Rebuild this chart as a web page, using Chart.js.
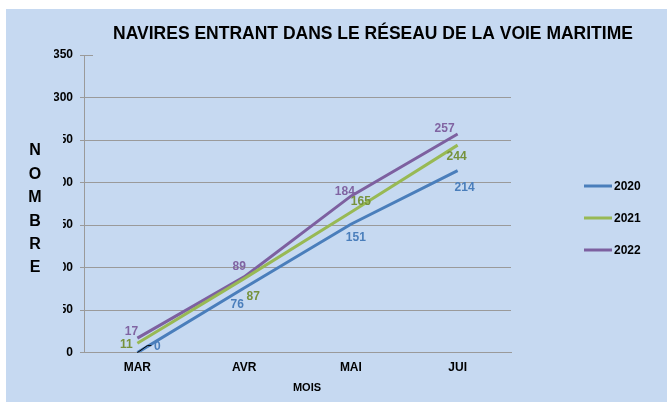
<!DOCTYPE html>
<html>
<head>
<meta charset="utf-8">
<script src="https://cdn.jsdelivr.net/npm/chart.js@4"></script>
<style>
  html, body { margin: 0; padding: 0; background: #fff; }
  #wrap { width: 667px; height: 402px; }
</style>
</head>
<body>
<div id="wrap"><canvas id="chart" width="667" height="402"></canvas></div>
<script>
const months = ["MAR", "AVR", "MAI", "JUI"];
const years = ["2020", "2021", "2022"];
const values2020 = [0, 76, 151, 214];
const values2021 = [11, 87, 165, 244];
const values2022 = [17, 89, 184, 257];
const yTicks = [0, 50, 100, 150, 200, 250, 300, 350];

const titleText = "NAVIRES ENTRANT DANS LE RÉSEAU DE LA VOIE MARITIME";
const bgColor = "#c6d9f1";
const gridColor = "#9a9a9a";
const lineColors = ["#4a7ebb", "#98b954", "#7d60a0"];
const labelColors = ["#4a7ebb", "#76923c", "#8064a2"];

// label offsets from each point (px), per series
const labelOffsets = [
    [[20, -6], [-7, 17], [5, 13], [7, 17]],
    [[-11, 1], [9, 18], [10, -11], [-1, 12]],
    [[-6, -6], [-5, -10], [-6, -4], [-13, -5]]
];

const FONT = "'Liberation Sans', Arial, sans-serif";

const decorPlugin = {
    id: 'decor',
    beforeDraw(chart) {
        const ctx = chart.ctx;
        ctx.save();
        ctx.fillStyle = "#fff";
        ctx.fillRect(0, 0, chart.width, chart.height);
        ctx.fillStyle = bgColor;
        ctx.fillRect(6, 9, chart.width - 6, chart.height - 9);
        ctx.restore();
    },
    afterDatasetsDraw(chart) {
        const ctx = chart.ctx;
        const y = chart.scales.y;
        const area = chart.chartArea;
        ctx.save();

        // tick stub at top value
        ctx.strokeStyle = gridColor;
        ctx.lineWidth = 1;
        const yTop = Math.round(y.getPixelForValue(350)) + 0.5;
        ctx.beginPath();
        ctx.moveTo(area.left, yTop);
        ctx.lineTo(area.left + 9, yTop);
        ctx.stroke();

        // data labels
        ctx.font = "bold 12px " + FONT;
        ctx.textAlign = "center";
        ctx.textBaseline = "middle";
        chart.data.datasets.forEach((ds, i) => {
            const meta = chart.getDatasetMeta(i);
            meta.data.forEach((pt, j) => {
                const off = labelOffsets[i][j];
                ctx.fillStyle = labelColors[i];
                ctx.fillText(String(ds.data[j]), pt.x + off[0], pt.y + off[1]);
            });
        });

        // leader line for the 0 label
        const p0 = chart.getDatasetMeta(0).data[0];
        ctx.strokeStyle = "#000";
        ctx.lineWidth = 1;
        ctx.beginPath();
        ctx.moveTo(p0.x, p0.y);
        ctx.lineTo(p0.x + 10, p0.y - 7);
        ctx.lineTo(p0.x + 14, p0.y - 7);
        ctx.stroke();

        // title
        ctx.fillStyle = "#000";
        ctx.font = "bold 17.5px " + FONT;
        ctx.fillText(titleText, 373, 34);

        // x axis title
        ctx.font = "bold 11px " + FONT;
        ctx.fillText("MOIS", 307, 388);

        // y axis title box (covers part of tick labels, like the original)
        ctx.fillStyle = bgColor;
        ctx.fillRect(18, 122, 45, 206);
        ctx.fillStyle = "#000";
        ctx.font = "bold 16px " + FONT;
        "NOMBRE".split("").forEach((ch, k) => {
            ctx.fillText(ch, 35, 151 + k * 23.4);
        });

        // legend
        ctx.textAlign = "left";
        ctx.font = "bold 12px " + FONT;
        years.forEach((yr, k) => {
            const ly = 186 + k * 32;
            ctx.strokeStyle = lineColors[k];
            ctx.lineWidth = 3;
            ctx.beginPath();
            ctx.moveTo(584, ly);
            ctx.lineTo(612, ly);
            ctx.stroke();
            ctx.fillStyle = "#000";
            ctx.fillText(yr, 614, ly + 1);
        });

        ctx.restore();
    }
};

const seriesValues = [values2020, values2021, values2022];

new Chart(document.getElementById("chart"), {
    type: 'line',
    data: {
        labels: months,
        datasets: years.map((yr, i) => ({
            label: yr,
            data: seriesValues[i],
            borderColor: lineColors[i],
            backgroundColor: lineColors[i],
            borderWidth: 3,
            pointRadius: 0,
            tension: 0,
            fill: false
        }))
    },
    options: {
        responsive: false,
        animation: false,
        layout: { padding: { left: 54, right: 156, top: 55, bottom: 27 } },
        plugins: {
            legend: { display: false },
            title: { display: false },
            tooltip: { enabled: false }
        },
        scales: {
            x: {
                offset: true,
                grid: { display: false },
                border: { display: true, color: gridColor, width: 1 },
                ticks: {
                    padding: 0,
                    maxRotation: 0,
                    autoSkip: false,
                    color: "#000",
                    font: { family: FONT, size: 12, weight: 'bold' }
                }
            },
            y: {
                min: 0,
                max: 350,
                afterBuildTicks: s => { s.ticks = yTicks.map(v => ({ value: v })); },
                grid: {
                    color: c => (c.tick && c.tick.value === 350) ? 'rgba(0,0,0,0)' : gridColor,
                    tickColor: gridColor,
                    tickLength: 4,
                    lineWidth: 1
                },
                border: { display: true, color: gridColor, width: 1 },
                ticks: {
                    padding: 7,
                    color: "#000",
                    font: { family: FONT, size: 12, weight: 'bold' }
                },
                afterFit: s => { s.width = 30; }
            }
        }
    },
    plugins: [decorPlugin]
});
</script>
</body>
</html>
